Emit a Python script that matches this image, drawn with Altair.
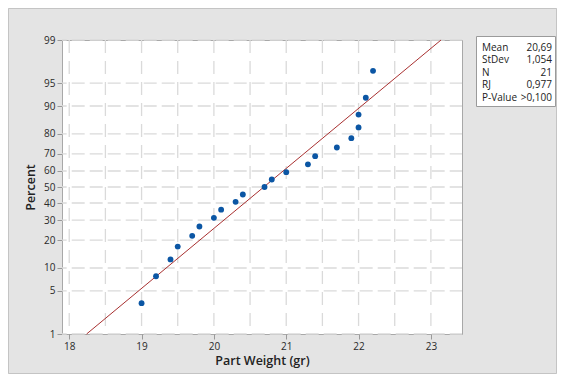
import altair as alt
import pandas as pd
from statistics import NormalDist

# ---- data ----
part_weight = [19.0, 19.2, 19.4, 19.5, 19.7, 19.8, 20.0, 20.1, 20.3, 20.4, 20.7,
               20.8, 21.0, 21.3, 21.4, 21.7, 21.9, 22.0, 22.0, 22.1, 22.2]
percent = [3.3, 7.9, 12.6, 17.3, 22.0, 26.6, 31.3, 36.0, 40.7, 45.3, 50.0,
           54.7, 59.3, 64.0, 68.7, 73.4, 78.0, 82.7, 87.4, 92.1, 96.7]
fit_x = [18.24, 23.14]
fit_p = [1, 99]
pct_ticks = [1, 5, 10, 20, 30, 40, 50, 60, 70, 80, 90, 95, 99]
x_ticks = [18, 19, 20, 21, 22, 23]
x_grid = [18, 18.5, 19, 19.5, 20, 20.5, 21, 21.5, 22, 22.5, 23]
stat_names = ["Mean", "StDev", "N", "RJ", "P-Value"]
stat_values = ["20,69", "1,054", "21", "0,977", ">0,100"]

W, H = 400, 294
FONT = "Open Sans"
nd = NormalDist()
zlim = nd.inv_cdf(0.99)
z_ticks = [nd.inv_cdf(p / 100) for p in pct_ticks]

pts = pd.DataFrame({"x": part_weight, "p": percent})
fit = pd.DataFrame({"x": fit_x, "p": fit_p})
hgrid = pd.DataFrame({"p": pct_ticks})
vgrid = pd.DataFrame({"x": x_grid})
stats = pd.DataFrame({"name": stat_names, "val": stat_values,
                      "row": list(range(len(stat_names)))})

xscale = alt.Scale(domain=[17.9, 23.43], nice=False, zero=False)
yscale = alt.Scale(domain=[-zlim, zlim], nice=False, zero=False)

xaxis = alt.Axis(values=x_ticks, title="Part Weight (gr)", grid=False, domain=False,
                 tickSize=5, tickColor="#9a9a9a", labelFontSize=10, labelColor="#2a2a2a",
                 labelFont=FONT, titleFont=FONT, titleFontSize=12.5, titleFontWeight=600,
                 titleColor="#222222", titlePadding=3, labelPadding=2)
yaxis = alt.Axis(values=z_ticks, title="Percent", grid=False, domain=False,
                 labelExpr="format(cumulativeNormal(datum.value)*100, '.0f')",
                 tickSize=5, tickColor="#9a9a9a", labelFontSize=10, labelColor="#2a2a2a",
                 labelFont=FONT, titleFont=FONT, titleFontSize=12.5, titleFontWeight=600,
                 titleColor="#222222", titlePadding=6, labelPadding=2)

outer = alt.Chart(pd.DataFrame({"a": [0]})).mark_rect(
    fill=None, stroke="#c4c4c4", strokeWidth=1
).encode(x=alt.value(-53.5), x2=alt.value(494.5), y=alt.value(-31.5), y2=alt.value(333.5))

vg = alt.Chart(vgrid).mark_rule(color="#dadada", strokeWidth=1.3, strokeDash=[13, 8]).encode(
    x=alt.X("x:Q", scale=xscale, axis=xaxis),
    y=alt.value(0), y2=alt.value(H))

hg = alt.Chart(hgrid).transform_calculate(z="quantileNormal(datum.p/100)").mark_rule(
    color="#dadada", strokeWidth=1.3, strokeDash=[13, 5], strokeDashOffset=8.3).encode(
    y=alt.Y("z:Q", scale=yscale, axis=yaxis),
    x=alt.value(0), x2=alt.value(W))

line = alt.Chart(fit).transform_calculate(z="quantileNormal(datum.p/100)").mark_line(
    color="#a83030", strokeWidth=1).encode(
    x=alt.X("x:Q", scale=xscale, axis=xaxis),
    y=alt.Y("z:Q", scale=yscale, axis=yaxis))

points = alt.Chart(pts).transform_calculate(z="quantileNormal(datum.p/100)").mark_circle(
    color="#0b56a4", opacity=1, size=34).encode(
    x=alt.X("x:Q", scale=xscale, axis=xaxis),
    y=alt.Y("z:Q", scale=yscale, axis=yaxis))

box = alt.Chart(pd.DataFrame({"a": [0]})).mark_rect(
    fill="white", stroke="#9a9a9a", strokeWidth=1
).encode(x=alt.value(414.5), x2=alt.value(493.5), y=alt.value(-3.5), y2=alt.value(66.5))

row_y = [7.5, 20, 32.5, 45, 57.5]
stat_layers = [box]
for i, yy in enumerate(row_y):
    stat_layers.append(
        alt.Chart(stats).transform_filter(f"datum.row == {i}").mark_text(
            align="left", baseline="middle", font=FONT, fontSize=10, color="#222222"
        ).encode(x=alt.value(420), y=alt.value(yy), text="name:N"))
    stat_layers.append(
        alt.Chart(stats).transform_filter(f"datum.row == {i}").mark_text(
            align="right", baseline="middle", font=FONT, fontSize=10, color="#222222"
        ).encode(x=alt.value(490), y=alt.value(yy), text="val:N"))

chart = alt.layer(outer, vg, hg, line, points, *stat_layers).properties(
    width=W, height=H,
    autosize=alt.AutoSizeParams(type="none"),
    padding={"left": 54, "top": 32, "right": 95, "bottom": 40},
    background="#e4e4e4",
).configure_view(
    fill="white", stroke="#a8a8a8", strokeWidth=1
)

chart.save("out.html", embed_options={"renderer": "svg", "actions": False})
